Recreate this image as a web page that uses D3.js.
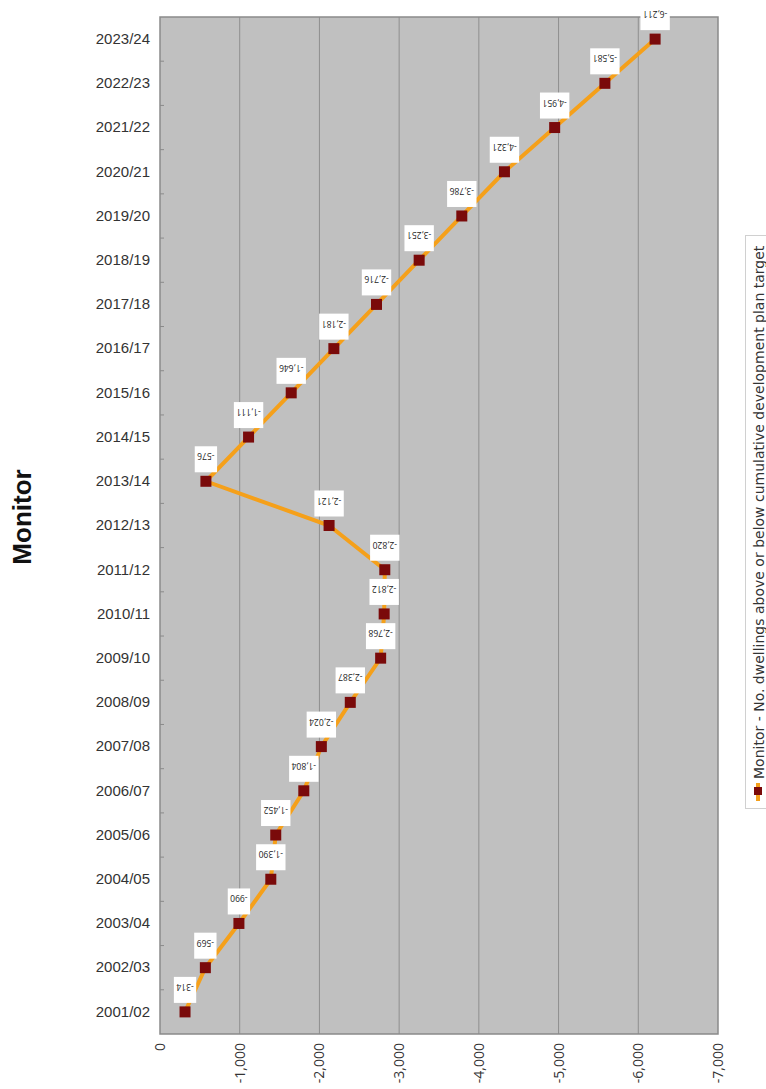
<!DOCTYPE html>
<html>
<head>
<meta charset="utf-8">
<script src="https://cdn.jsdelivr.net/npm/d3@7"></script>
<style>
  body { margin: 0; background: #fff; }
  svg { display: block; font-family: "Open Sans", "DejaVu Sans", sans-serif; }
</style>
</head>
<body>
<svg id="chart"></svg>
<script>
const years = ["2001/02", "2002/03", "2003/04", "2004/05", "2005/06", "2006/07", "2007/08",
    "2008/09", "2009/10", "2010/11", "2011/12", "2012/13", "2013/14", "2014/15", "2015/16",
    "2016/17", "2017/18", "2018/19", "2019/20", "2020/21", "2021/22", "2022/23", "2023/24"];
const monitor = [-314, -569, -990, -1390, -1452, -1804, -2024, -2387, -2768, -2812, -2820,
    -2121, -576, -1111, -1646, -2181, -2716, -3251, -3786, -4321, -4951, -5581, -6211];
const valueTicks = [0, -1000, -2000, -3000, -4000, -5000, -6000, -7000];
const seriesName = "Monitor - No. dwellings above or below cumulative development plan target";

const W = 766, H = 1089;
const plot = { left: 160, right: 718, top: 17, bottom: 1034 };

const svg = d3.select("#chart").attr("width", W).attr("height", H);

const xScale = d3.scaleLinear().domain([0, -7000]).range([plot.left, plot.right]);
const yScale = d3.scaleBand().domain(years).range([plot.bottom, plot.top]);
const yc = d => yScale(d) + yScale.bandwidth() / 2;
const fmt = v => d3.format(",")(v).replace("−", "-");

// plot background
svg.append("rect")
    .attr("x", plot.left).attr("y", plot.top)
    .attr("width", plot.right - plot.left).attr("height", plot.bottom - plot.top)
    .attr("fill", "#c0c0c0");

// gridlines
svg.append("g").selectAll("line")
    .data(valueTicks.slice(1, -1))
    .join("line")
    .attr("x1", d => xScale(d)).attr("x2", d => xScale(d))
    .attr("y1", plot.top).attr("y2", plot.bottom)
    .attr("stroke", "#8e8e8e").attr("stroke-width", 1);

// border
svg.append("rect")
    .attr("x", plot.left).attr("y", plot.top)
    .attr("width", plot.right - plot.left).attr("height", plot.bottom - plot.top)
    .attr("fill", "none").attr("stroke", "#8a8a8a").attr("stroke-width", 1.5);

// category axis
const yAxis = svg.append("g")
    .attr("transform", `translate(${plot.left},0)`)
    .call(d3.axisLeft(yScale).tickSize(0).tickPadding(10));
yAxis.select(".domain").remove();
yAxis.selectAll("text").attr("font-size", 15).attr("fill", "#333");
svg.append("g").selectAll("line")
    .data(years.slice(1))
    .join("line")
    .attr("x1", plot.left).attr("x2", plot.left + 4)
    .attr("y1", d => yScale(d) + yScale.bandwidth()).attr("y2", d => yScale(d) + yScale.bandwidth())
    .attr("stroke", "#8a8a8a");

// value axis (rotated labels)
svg.append("g").selectAll("text")
    .data(valueTicks)
    .join("text")
    .attr("transform", d => `translate(${xScale(d) + 5},${plot.bottom + 9}) rotate(-90)`)
    .attr("text-anchor", "end")
    .attr("font-size", 14)
    .attr("fill", "#333")
    .text(fmt);

// line
const line = d3.line()
    .x(d => xScale(d.v))
    .y(d => yc(d.y));
const pts = years.map((y, i) => ({ y, v: monitor[i] }));

svg.append("path")
    .datum(pts)
    .attr("d", line)
    .attr("fill", "none")
    .attr("stroke", "#f5a01a")
    .attr("stroke-width", 4);

svg.append("g").selectAll("rect")
    .data(pts)
    .join("rect")
    .attr("x", d => xScale(d.v) - 5.5).attr("y", d => yc(d.y) - 5.5)
    .attr("width", 11).attr("height", 11)
    .attr("fill", "#7a0a0a");

// data labels (upside down)
const labels = svg.append("g").selectAll("g")
    .data(pts)
    .join("g")
    .attr("transform", d => `translate(${xScale(d.v)},${yc(d.y) - 22}) rotate(180)`);

labels.append("text")
    .attr("text-anchor", "middle")
    .attr("dy", "0.35em")
    .attr("y", 3)
    .attr("font-size", 8.5)
    .attr("fill", "#222")
    .text(d => fmt(d.v));

labels.each(function () {
    const g = d3.select(this);
    const w = g.select("text").node().getComputedTextLength() + 5;
    g.insert("rect", "text")
        .attr("x", -w / 2).attr("y", -13)
        .attr("width", w).attr("height", 26)
        .attr("fill", "#fff");
});

// legend
svg.append("rect")
    .attr("x", 745.5).attr("y", 235.5)
    .attr("width", 30).attr("height", 573)
    .attr("fill", "#fff").attr("stroke", "#d0d0d0");
svg.append("line")
    .attr("x1", 758).attr("x2", 758)
    .attr("y1", 783).attr("y2", 801)
    .attr("stroke", "#f5a01a").attr("stroke-width", 4);
svg.append("rect")
    .attr("x", 754).attr("y", 787)
    .attr("width", 8).attr("height", 8)
    .attr("fill", "#7a0a0a");
svg.append("text")
    .attr("transform", "translate(764,779) rotate(-90)")
    .attr("font-family", "DejaVu Sans, sans-serif")
    .attr("font-size", 14)
    .attr("fill", "#333")
    .text(seriesName);

// title
svg.append("text")
    .attr("transform", "translate(31,517) rotate(-90)")
    .attr("text-anchor", "middle")
    .attr("font-family", "Liberation Sans, Arial, sans-serif")
    .attr("font-weight", "bold")
    .attr("font-size", 26)
    .attr("fill", "#111")
    .text("Monitor");
</script>
</body>
</html>
